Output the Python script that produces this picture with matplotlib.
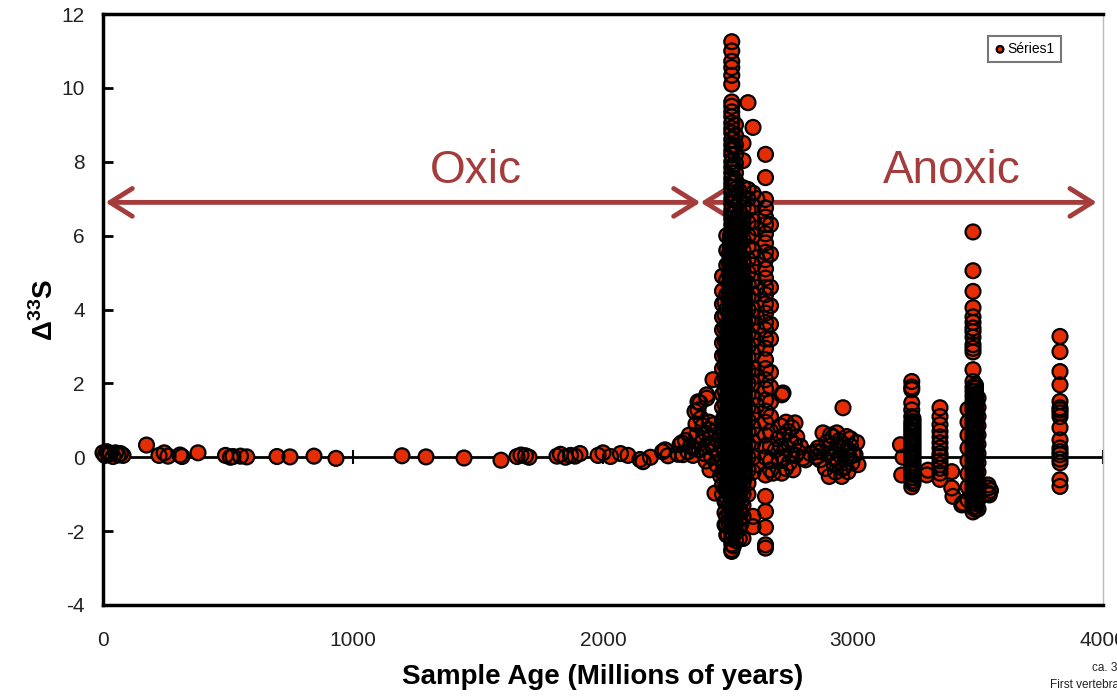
import matplotlib
matplotlib.use("Agg")
import matplotlib.pyplot as plt
import numpy as np

plt.rcParams["font.family"] = ["Liberation Sans", "DejaVu Sans"]
plt.rcParams["axes.unicode_minus"] = False
plt.rcParams["mathtext.fontset"] = "custom"
plt.rcParams["mathtext.rm"] = "Liberation Sans"
plt.rcParams["mathtext.bf"] = "Liberation Sans:bold"

# Δ33S 測定値（年代 Ma と値）
# 顕生代〜原生代：ほぼ 0
ages_low = [0, 8, 15, 22, 30, 40, 50, 60, 70, 80, 174, 224, 245, 260, 308, 316,
            380, 490, 510, 520, 550, 575, 696, 748, 844, 932, 1196, 1292, 1444,
            1592, 1656, 1672, 1690, 1704, 1816, 1830, 1850, 1870, 1888, 1908,
            1980, 2000, 2030, 2070, 2100, 2148, 2160, 2190, 2238, 2260, 2300]
d33s_low = [0.12, 0.05, 0.15, 0.08, 0.1, 0.02, 0.12, 0.06, 0.1, 0.05, 0.33, 0.05,
            0.12, 0.03, 0.06, 0.02, 0.12, 0.05, 0.0, 0.02, 0.03, 0.01, 0.02, 0.01,
            0.03, -0.03, 0.04, 0.01, -0.02, -0.08, 0.02, 0.06, 0.04, 0.0, 0.03,
            0.08, 0.0, 0.05, 0.03, 0.1, 0.05, 0.12, 0.02, 0.1, 0.05, -0.06, -0.12,
            0.0, 0.15, 0.04, 0.08]

# 2.45 Ga 前後の立ち上がり
ages_tr = [2248, 2308, 2315, 2320, 2330, 2340, 2345, 2350, 2360, 2362, 2368, 2372,
           2375, 2380, 2380, 2385, 2388, 2392, 2395, 2400, 2402, 2405, 2410, 2412,
           2415, 2415, 2420, 2422, 2425, 2428, 2430, 2432, 2435, 2440, 2440, 2445,
           2448, 2450, 2455, 2460, 2465, 2470, 2488, 2500, 2515]
d33s_tr = [0.2, 0.34, 0.39, 0.07, 0.45, 0.15, 0.6, 0.3, 0.05, 0.25, 1.24, 0.9,
           0.6, 1.5, 1.28, 0.2, 1.47, 1.05, 0.4, 0.85, 0.5, 0.1, 0.65, -0.1,
           1.6, 1.69, 0.3, 0.75, 0.95, -0.34, 0.55, 0.35, 0.0, 2.1, 0.88, 0.25,
           -0.97, 0.7, -0.2, 0.45, 0.1, -0.5, -1.83, -2.1, -2.55]

# 新太古代の柱（年代ごと）
col_2478 = [4.9, 4.5, 4.15, 3.8, 3.45, 3.1, 2.75, 2.4, 2.05, 1.7, 1.35, 1.0, 0.65,
            0.3, -0.05, -0.4, -0.75, -1.0]
col_2488 = [4.2, 3.85, 3.5, 3.15, 2.8, 2.5, 2.15, 1.8, 1.45, 1.15, 0.85, 0.5, 0.2,
            -0.15, -0.5, -0.85, -1.2, -1.5]
col_2495 = [6.0, 5.6, 5.2, 4.8, 4.4, 4.0, 3.6, 3.2, 2.8, 2.4, 2.0, 1.6, 1.2, 0.8,
            0.4, 0.0, -0.4, -0.8, -1.2, -1.6, -1.83, -2.1]
col_2505 = [5.5, 5.25, 4.95, 4.7, 4.45, 4.2, 3.9, 3.65, 3.4, 3.15, 2.9, 2.6, 2.35,
            2.1, 1.85, 1.55, 1.3, 1.05, 0.8, 0.55, 0.3, 0.02, -0.25, -0.5, -0.75,
            -1.0, -1.3, -1.55, -1.8]
col_2515 = [11.25, 11.0, 10.72, 10.55, 10.34, 10.1, 9.62, 9.5, 9.35, 9.22, 9.05,
            8.9, 8.78, 8.6, 8.45, 8.3, 8.18, 8.0, 7.85, 7.7, 7.55, 7.42, 7.3, 7.15,
            7.0, 6.85, 6.7, 6.58, 6.45, 6.3, 6.15, 6.0, 5.88, 5.72, 5.6, 5.45, 5.3,
            5.18, 5.05, 4.9, 4.78, 4.62, 4.5, 4.35, 4.2, 4.08, 3.95, 3.8, 3.66,
            3.52, 3.4, 3.25, 3.12, 3.0, 2.85, 2.72, 2.6, 2.45, 2.32, 2.2, 2.05,
            1.92, 1.8, 1.66, 1.52, 1.4, 1.25, 1.12, 1.0, 0.86, 0.74, 0.6, 0.48,
            0.35, 0.22, 0.1, -0.02, -0.15, -0.28, -0.4, -0.55, -0.68, -0.8, -0.95,
            -1.08, -1.2, -1.35, -1.5, -1.62, -1.78, -1.9, -2.05, -2.2, -2.35, -2.5]
col_2522 = [8.4, 7.9, 7.45, 7.0, 6.6, 6.25, 5.95, 5.65, 5.35, 5.05, 4.75, 4.5,
            4.25, 3.95, 3.7, 3.45, 3.15, 2.9, 2.65, 2.35, 2.1, 1.85, 1.58, 1.3,
            1.05, 0.78, 0.52, 0.27, 0.0, -0.28, -0.52, -0.8, -1.05, -1.3, -1.58,
            -1.85, -2.1, -2.4]
col_2530 = [9.0, 8.72, 8.45, 8.2, 7.95, 7.7, 7.5, 7.25, 7.05, 6.8, 6.62, 6.4, 6.2,
            6.0, 5.8, 5.62, 5.4, 5.22, 5.0, 4.82, 4.6, 4.42, 4.2, 4.02, 3.82, 3.6,
            3.42, 3.2, 3.02, 2.8, 2.62, 2.4, 2.22, 2.0, 1.82, 1.6, 1.42, 1.2, 1.02,
            0.8, 0.62, 0.4, 0.22, 0.0, -0.2, -0.4, -0.6, -0.8, -1.0, -1.2, -1.42,
            -1.6, -1.82, -2.0, -2.25]
col_2545 = [7.2, 6.9, 6.6, 6.3, 6.05, 5.75, 5.5, 5.2, 4.95, 4.65, 4.4, 4.1, 3.85,
            3.55, 3.3, 3.0, 2.75, 2.45, 2.2, 1.9, 1.65, 1.35, 1.1, 0.8, 0.55, 0.25,
            0.0, -0.3, -0.55, -0.85, -1.1, -1.4, -1.65, -1.95, -2.2]
col_2552 = [6.4, 6.1, 5.8, 5.45, 5.15, 4.85, 4.55, 4.25, 3.95, 3.65, 3.35, 3.05,
            2.7, 2.4, 2.1, 1.8, 1.5, 1.2, 0.9, 0.6, 0.3, 0.0, -0.3, -0.6, -0.9,
            -1.2, -1.5, -1.8]
col_2560 = [8.5, 8.03, 7.3, 7.05, 6.75, 6.45, 6.2, 5.9, 5.6, 5.3, 5.05, 4.75, 4.45,
            4.15, 3.9, 3.6, 3.3, 3.0, 2.75, 2.45, 2.15, 1.85, 1.6, 1.3, 1.0, 0.7,
            0.45, 0.15, -0.15, -0.45, -0.7, -1.0, -1.3, -1.6, -2.2]
col_2580 = [9.6, 7.25, 7.0, 6.7, 6.35, 6.0, 5.7, 5.35, 5.0, 4.7, 4.35, 4.0, 3.7,
            3.35, 3.0, 2.7, 2.35, 2.0, 1.7, 1.35, 1.0, 0.7, 0.35, 0.0, -0.35, -0.7,
            -1.0]
col_2600 = [8.93, 7.15, 6.8, 6.4, 6.0, 5.6, 5.2, 4.8, 4.4, 4.0, 3.6, 3.2, 2.8, 2.4,
            2.0, 1.6, 1.2, 0.8, 0.4, 0.0, -0.4, -1.6, -1.88]
col_2615 = [7.0, 6.2, 5.4, 4.6, 3.8, 3.0, 2.2, 1.4, 0.6, -0.2]
col_2650 = [8.2, 7.57, 6.98, 6.75, 6.5, 6.3, 6.05, 5.8, 5.55, 5.35, 5.1, 4.85, 4.6,
            4.4, 4.15, 3.9, 3.65, 3.45, 3.2, 2.95, 2.64, 2.4, 2.1, 1.85, 1.55, 1.25,
            0.95, 0.6, 0.3, 0.0, -0.48, -1.06, -1.47, -1.9, -2.37, -2.46]
col_2670 = [6.3, 5.5, 4.6, 4.1, 3.6, 3.2, 2.3, 1.9, 1.5, 1.1, 0.7, 0.3, -0.1, -0.34]

# 最も試料が集中する 2.50–2.57 Ga
dense_2500 = [3.6, 3.45, 3.3, 3.16, 3.02, 2.88, 2.73, 2.58, 2.44, 2.3, 2.15, 2.0,
              1.86, 1.72, 1.57, 1.42, 1.28, 1.14, 1.0, 0.85, 0.7, 0.56, 0.42, 0.28,
              0.13, -0.02, -0.17, -0.31, -0.46, -0.6, -0.75, -0.9]
dense_2565 = [4.80, 4.72, 4.63, 4.55, 4.46, 4.38, 4.29, 4.21, 4.12, 4.04, 3.95,
              3.87, 3.78, 3.70, 3.61, 3.53, 3.44, 3.36, 3.27, 3.19, 3.10, 3.02,
              2.93, 2.85, 2.76, 2.68, 2.59, 2.51, 2.42, 2.34, 2.25, 2.17, 2.08,
              2.00, 1.91, 1.83, 1.74, 1.66, 1.57, 1.49, 1.40, 1.32, 1.23, 1.15,
              1.06, 0.98, 0.89, 0.81, 0.72, 0.64, 0.55, 0.47, 0.38, 0.30, 0.21,
              0.13, 0.04, -0.04, -0.13, -0.21, -0.30, -0.38, -0.47, -0.55]
dense_2510 = [6.00, 5.92, 5.85, 5.77, 5.69, 5.61, 5.54, 5.46, 5.38, 5.30, 5.23,
              5.15, 5.07, 4.99, 4.92, 4.84, 4.76, 4.68, 4.61, 4.53, 4.45, 4.37,
              4.30, 4.22, 4.14, 4.06, 3.99, 3.91, 3.83, 3.75, 3.68, 3.60, 3.52,
              3.44, 3.37, 3.29, 3.21, 3.13, 3.06, 2.98, 2.90, 2.82, 2.75, 2.67,
              2.59, 2.51, 2.44, 2.36, 2.28, 2.20, 2.13, 2.05, 1.97, 1.89, 1.82,
              1.74, 1.66, 1.58, 1.51, 1.43, 1.35, 1.27, 1.20, 1.12, 1.04, 0.96,
              0.89, 0.81, 0.73, 0.65, 0.58, 0.50, 0.42, 0.34, 0.27, 0.19, 0.11,
              0.03, -0.04, -0.12, -0.20, -0.28, -0.35, -0.43, -0.51, -0.59, -0.66,
              -0.74, -0.82, -0.90, -0.97]
dense_2538 = [6.50, 6.41, 6.33, 6.24, 6.16, 6.07, 5.99, 5.90, 5.82, 5.73, 5.65,
              5.56, 5.48, 5.39, 5.31, 5.22, 5.14, 5.05, 4.97, 4.88, 4.80, 4.71,
              4.63, 4.54, 4.46, 4.37, 4.29, 4.20, 4.12, 4.03, 3.95, 3.86, 3.78,
              3.69, 3.61, 3.52, 3.44, 3.35, 3.27, 3.18, 3.10, 3.01, 2.93, 2.84,
              2.76, 2.67, 2.59, 2.50, 2.42, 2.33, 2.25, 2.16, 2.08, 1.99, 1.91,
              1.82, 1.74, 1.65, 1.57, 1.48, 1.40, 1.31, 1.23, 1.14, 1.06, 0.97,
              0.89, 0.80, 0.72, 0.63, 0.55, 0.46, 0.38, 0.29, 0.21, 0.12, 0.04,
              -0.05, -0.13, -0.22, -0.30, -0.39, -0.47, -0.56, -0.64, -0.73, -0.81,
              -0.90, -0.98, -1.07]

# 古太古代〜始生代の柱
col_3235 = [2.05, 1.9, 1.83, 1.47, 1.28, 1.1, 0.95, 0.85, 0.75, 0.65, 0.55, 0.45,
            0.35, 0.25, 0.15, 0.05, -0.05, -0.15, -0.25, -0.35, -0.43, -0.55,
            -0.65, -0.8]
col_3240 = [1.05, 0.97, 0.89, 0.81, 0.73, 0.65, 0.57, 0.49, 0.41, 0.33, 0.25, 0.17,
            0.09, 0.01, -0.07, -0.15, -0.23, -0.31, -0.39, -0.47, -0.55, -0.63,
            -0.71]
col_3348 = [1.34, 1.1, 0.88, 0.7, 0.55, 0.39, 0.25, 0.1, 0.02, -0.1, -0.2, -0.3,
            -0.43, -0.6]
col_3460 = [1.3, 0.95, 0.6, 0.25, -0.1, -0.45, -0.8, -1.15]
col_3480 = [6.1, 5.05, 4.49, 4.05, 3.8, 3.65, 3.5, 3.4, 3.25, 3.05, 2.95, 2.85,
            2.37, 2.05, 1.9, 1.78, 1.65, 1.52, 1.4, 1.28, 1.15, 1.02, 0.9, 0.78,
            0.65, 0.52, 0.4, 0.28, 0.15, 0.02, -0.1, -0.22, -0.35, -0.48, -0.6,
            -0.72, -0.85, -0.98, -1.1, -1.22, -1.35, -1.48]
col_3500 = [1.6, 1.35, 1.1, 0.85, 0.6, 0.35, 0.1, -0.15, -0.4, -0.65, -0.9, -1.15,
            -1.4]
col_3490 = [1.95, 1.87, 1.79, 1.71, 1.63, 1.55, 1.47, 1.39, 1.31, 1.23, 1.15, 1.07,
            0.99, 0.91, 0.83, 0.75, 0.67, 0.59, 0.51, 0.43, 0.35, 0.27, 0.19, 0.11,
            0.03, -0.05, -0.13, -0.21, -0.29, -0.37, -0.45, -0.53, -0.61, -0.69,
            -0.77, -0.85, -0.93, -1.01, -1.09, -1.17, -1.25, -1.33, -1.41]
col_3828 = [3.27, 2.86, 2.32, 1.96, 1.51, 1.34, 1.28, 1.2, 1.1, 0.8, 0.47, 0.25,
            0.15, 0.07, -0.05, -0.15, -0.61, -0.79]

# 2.7 Ga 付近
ages_2700 = [2680, 2690, 2700, 2705, 2710, 2712, 2715, 2715, 2720, 2720, 2725,
             2730, 2732, 2735, 2740, 2745, 2750, 2752, 2755, 2760, 2765, 2768,
             2770, 2775, 2780, 2790, 2800, 2810, 2830, 2855, 2855]
d33s_2700 = [-0.43, 0.2, 0.5, -0.1, 0.85, 0.3, 1.69, -0.43, 1.74, 0.0, 0.6, -0.3,
             0.95, 0.25, 0.7, -0.15, 0.45, 0.1, 0.8, -0.34, 0.35, 0.93, 0.05, 0.55,
             0.15, 0.29, -0.02, -0.07, 0.1, 0.15, 0.02]

# 2.9–3.0 Ga
ages_2950 = [2852, 2860, 2868, 2875, 2880, 2890, 2895, 2900, 2905, 2910, 2915, 2920,
             2925, 2930, 2935, 2940, 2945, 2950, 2955, 2960, 2965, 2970, 2975, 2980,
             2985, 2990, 2995, 3000, 3008, 3015, 3020, 2910, 2930, 2950, 2970, 2990,
             2920, 2940, 2960, 2980, 2960]
d33s_2950 = [0.02, 0.25, -0.07, 0.15, 0.66, -0.3, 0.4, 0.1, -0.52, 0.3, 0.0, 0.55,
             -0.2, 0.2, 0.66, -0.1, 0.45, 0.05, -0.52, 0.35, -0.25, 0.15, 0.56,
             -0.39, 0.0, 0.3, -0.15, 0.1, 0.07, 0.4, -0.2, 0.6, -0.4, 0.25, -0.05,
             0.5, 0.0, 0.35, -0.3, 0.2, 1.34]

# 古太古代の散在点
ages_3200 = [3190, 3195, 3200, 3295, 3300, 3395, 3395, 3400, 3435, 3440, 3540, 3540,
             3540, 3545, 3550]
d33s_3200 = [0.34, -0.48, 0.0, -0.48, -0.35, -0.39, -0.83, -1.06, -1.29, -1.24,
             -0.75, -0.83, -0.97, -1.02, -0.9]

columns = [(2478, col_2478), (2488, col_2488), (2495, col_2495), (2505, col_2505),
           (2515, col_2515), (2522, col_2522), (2530, col_2530), (2545, col_2545),
           (2552, col_2552), (2560, col_2560), (2580, col_2580), (2600, col_2600),
           (2615, col_2615), (2650, col_2650), (2670, col_2670),
           (2500, dense_2500), (2565, dense_2565), (2510, dense_2510),
           (2538, dense_2538),
           (3235, col_3235), (3240, col_3240), (3348, col_3348), (3460, col_3460),
           (3480, col_3480), (3500, col_3500), (3490, col_3490), (3828, col_3828)]

# 区分（酸化的／無酸素）
oxic_span = (10, 2390)
anoxic_span = (2390, 3975)
arrow_level = 6.9

ages = ages_low + ages_tr + ages_2700 + ages_2950 + ages_3200
vals = d33s_low + d33s_tr + d33s_2700 + d33s_2950 + d33s_3200
for age, col in columns:
    ages += [age] * len(col)
    vals += col

RED = "#e52d05"
ARROW = "#a43c3c"

fig = plt.figure(figsize=(11.17, 6.97), dpi=100)
ax = fig.add_axes([103 / 1117, 1 - 605 / 697, 1000 / 1117, 591 / 697])

ax.axhline(0, color="black", lw=2, zorder=1)
# 塗りを先に全部描き、輪郭線をその上に重ねる
faces = ax.scatter(ages, vals, s=115, facecolor=RED, edgecolor="none",
                   zorder=3, clip_on=False)
rings = ax.scatter(ages, vals, s=115, facecolor="none", edgecolor="black",
                   linewidths=1.6, zorder=4, clip_on=False)

ax.set_xlim(0, 4000)
ax.set_ylim(-4, 12)
ax.set_xticks([0, 1000, 2000, 3000, 4000])
ax.set_yticks(range(-4, 13, 2))
ax.tick_params(axis="x", length=0, pad=19, labelsize=15, labelcolor="#222222")
ax.tick_params(axis="y", direction="in", length=7, width=2, pad=13,
               labelsize=15, labelcolor="#222222")
for side in ("left", "top", "bottom"):
    ax.spines[side].set_linewidth(2.5)
ax.spines["right"].set_color("#bbbbbb")
ax.spines["right"].set_linewidth(1)

# 0 の位置に目盛り付きの横軸
zero_axis = ax.secondary_xaxis(0.25)
zero_axis.spines["bottom"].set_visible(False)
zero_axis.set_xticks([0, 1000, 2000, 3000, 4000])
zero_axis.tick_params(direction="inout", length=10, width=1.5, labelbottom=False)

ax.set_xlabel("Sample Age (Millions of years)", fontsize=20, fontweight="bold",
              labelpad=10)
ax.set_ylabel(r"Δ$^{\mathbf{33}}$S", fontsize=20, fontweight="bold", labelpad=2)

arrow_kw = dict(arrowstyle="<->,head_length=0.8,head_width=0.5", color=ARROW,
                lw=3.5, mutation_scale=20, shrinkA=0, shrinkB=0)
ax.annotate("", xy=(oxic_span[0], arrow_level), xytext=(oxic_span[1], arrow_level),
            arrowprops=arrow_kw, annotation_clip=False)
ax.annotate("", xy=(anoxic_span[0], arrow_level),
            xytext=(anoxic_span[1], arrow_level), arrowprops=arrow_kw,
            annotation_clip=False)
ax.text(1490, 7.75, "Oxic", color=ARROW, fontsize=33, ha="center", va="center")
ax.text(3395, 7.75, "Anoxic", color=ARROW, fontsize=33, ha="center", va="center")

leg = ax.legend([(faces, rings)], ["Séries1"], loc="upper right",
                bbox_to_anchor=(0.965, 0.975), fontsize=10, markerscale=0.45,
                handletextpad=0.15, borderpad=0.45, handlelength=0.8,
                fancybox=False, frameon=True)
leg.get_frame().set_edgecolor("#555555")
leg.get_frame().set_linewidth(1.5)

fig.text(1092 / 1117, 1 - 668 / 697, "ca. 350 Ma", fontsize=8.5, ha="left",
         va="center", color="#222222")
fig.text(1050 / 1117, 1 - 685 / 697, "First vertebrates", fontsize=8.5, ha="left",
         va="center", color="#222222")

fig.savefig("out.png", dpi=100)
